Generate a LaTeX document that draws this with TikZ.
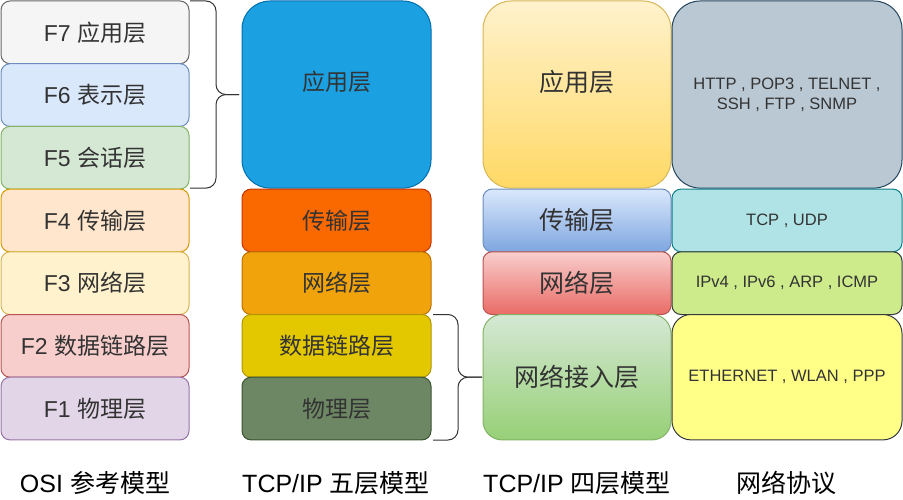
\documentclass[tikz,border=0pt]{standalone}
\usepackage{fontspec}
\setmainfont{Liberation Sans}
\newfontfamily\cjk{Noto Sans CJK SC}
\definecolor{txtgray}{HTML}{333333}
\begin{document}
\begin{tikzpicture}[x=1pt,y=-1pt,line join=round]
  \tikzstyle{layer}=[rectangle,rounded corners=9pt,line width=1pt,inner sep=0pt,
    minimum width=188pt,minimum height=62.7pt,text=txtgray,font=\fontsize{23}{27}\selectfont]
  \tikzstyle{tall}=[layer,rounded corners=28pt,minimum height=187.1pt]
  \tikzstyle{raised}=[text depth=27pt]
  \tikzstyle{four}=[layer,font=\fontsize{25}{29}\selectfont]
  \tikzstyle{proto}=[layer,minimum width=230pt,align=center,font=\fontsize{16.5}{20}\selectfont]
  \tikzstyle{caption}=[text=black,font=\fontsize{25}{29}\selectfont]
  \tikzstyle{brace}=[draw=txtgray,line width=1pt,rounded corners=10pt]
  \useasboundingbox (0,0) rectangle (903,500);

  % OSI
  \node[layer,fill={rgb,255:red,245;green,245;blue,245},draw={rgb,255:red,102;green,102;blue,102}] (F7) at (95,32.35) {F7 {\cjk 应用层}};
  \node[layer,fill={rgb,255:red,218;green,232;blue,252},draw={rgb,255:red,108;green,142;blue,191}] (F6) at (95,95.05) {F6 {\cjk 表示层}};
  \node[layer,fill={rgb,255:red,213;green,232;blue,212},draw={rgb,255:red,130;green,179;blue,102}] (F5) at (95,157.75) {F5 {\cjk 会话层}};
  \node[layer,fill={rgb,255:red,255;green,230;blue,204},draw={rgb,255:red,215;green,155;blue,0}] (F4) at (95,220.45) {F4 {\cjk 传输层}};
  \node[layer,fill={rgb,255:red,255;green,242;blue,204},draw={rgb,255:red,214;green,182;blue,86}] (F3) at (95,283.15) {F3 {\cjk 网络层}};
  \node[layer,fill={rgb,255:red,248;green,206;blue,204},draw={rgb,255:red,184;green,84;blue,80}] (F2) at (95,345.85) {F2 {\cjk 数据链路层}};
  \node[layer,fill={rgb,255:red,225;green,213;blue,231},draw={rgb,255:red,150;green,115;blue,166}] (F1) at (95,408.55) {F1 {\cjk 物理层}};

  % TCP/IP five layers
  \node[tall,raised,minimum width=189pt,fill={rgb,255:red,27;green,161;blue,226},draw={rgb,255:red,0;green,110;blue,175}] (V5) at (336.5,94.55) {\cjk 应用层};
  \node[layer,minimum width=189pt,fill={rgb,255:red,250;green,104;blue,0},draw={rgb,255:red,199;green,53;blue,0}] (V4) at (336.5,220.45) {\cjk 传输层};
  \node[layer,minimum width=189pt,fill={rgb,255:red,240;green,163;blue,10},draw={rgb,255:red,189;green,112;blue,0}] (V3) at (336.5,283.15) {\cjk 网络层};
  \node[layer,minimum width=189pt,fill={rgb,255:red,227;green,200;blue,0},draw={rgb,255:red,176;green,149;blue,0}] (V2) at (336.5,345.85) {\cjk 数据链路层};
  \node[layer,minimum width=189pt,fill={rgb,255:red,109;green,135;blue,100},draw={rgb,255:red,58;green,84;blue,49}] (V1) at (336.5,408.55) {\cjk 物理层};

  % TCP/IP four layers
  \node[four,tall,raised,font=\fontsize{25}{29}\selectfont,top color={rgb,255:red,255;green,242;blue,204},bottom color={rgb,255:red,255;green,217;blue,102},draw={rgb,255:red,214;green,182;blue,86}] (U4) at (577,94.55) {\cjk 应用层};
  \node[four,top color={rgb,255:red,218;green,232;blue,252},bottom color={rgb,255:red,126;green,166;blue,224},draw={rgb,255:red,108;green,142;blue,191}] (U3) at (577,220.45) {\cjk 传输层};
  \node[four,top color={rgb,255:red,248;green,206;blue,204},bottom color={rgb,255:red,234;green,107;blue,102},draw={rgb,255:red,184;green,84;blue,80}] (U2) at (577,283.15) {\cjk 网络层};
  \node[four,rounded corners=19pt,minimum height=125.4pt,top color={rgb,255:red,213;green,232;blue,212},bottom color={rgb,255:red,151;green,208;blue,119},draw={rgb,255:red,130;green,179;blue,102}] (U1) at (577,377.2) {\cjk 网络接入层};

  % protocols
  \node[proto,rounded corners=28pt,minimum height=187.1pt,fill={rgb,255:red,186;green,200;blue,211},draw={rgb,255:red,35;green,68;blue,93}] (P4) at (787,94.55) {HTTP , POP3 , TELNET ,\\SSH , FTP , SNMP};
  \node[proto,fill={rgb,255:red,176;green,227;blue,230},draw={rgb,255:red,14;green,128;blue,136}] (P3) at (787,220.45) {TCP , UDP};
  \node[proto,fill={rgb,255:red,205;green,235;blue,139},draw={rgb,255:red,54;green,57;blue,61}] (P2) at (787,283.15) {IPv4 , IPv6 , ARP , ICMP};
  \node[proto,rounded corners=19pt,minimum height=125.4pt,fill={rgb,255:red,255;green,255;blue,136},draw={rgb,255:red,54;green,57;blue,61}] (P1) at (787,377.2) {ETHERNET , WLAN , PPP};

  % braces
  \coordinate (B1t) at (190,1);
  \coordinate (B1b) at (190,188.1);
  \coordinate (B1m) at (239,94.55);
  \draw[brace] (B1t) -- ++(26,0) |- (B1m);
  \draw[brace] (B1b) -- ++(26,0) |- (B1m);
  \coordinate (B2t) at (433,314.5);
  \coordinate (B2b) at (433,440);
  \coordinate (B2m) at (482,377.2);
  \draw[brace] (B2t) -- ++(25,0) |- (B2m);
  \draw[brace] (B2b) -- ++(25,0) |- (B2m);

  % captions
  \node[caption] (C1) at (95,483) {OSI {\cjk 参考模型}};
  \node[caption] (C2) at (336,483) {TCP/IP {\cjk 五层模型}};
  \node[caption] (C3) at (577,483) {TCP/IP {\cjk 四层模型}};
  \node[caption] (C4) at (786,483) {\cjk 网络协议};
\end{tikzpicture}
\end{document}
